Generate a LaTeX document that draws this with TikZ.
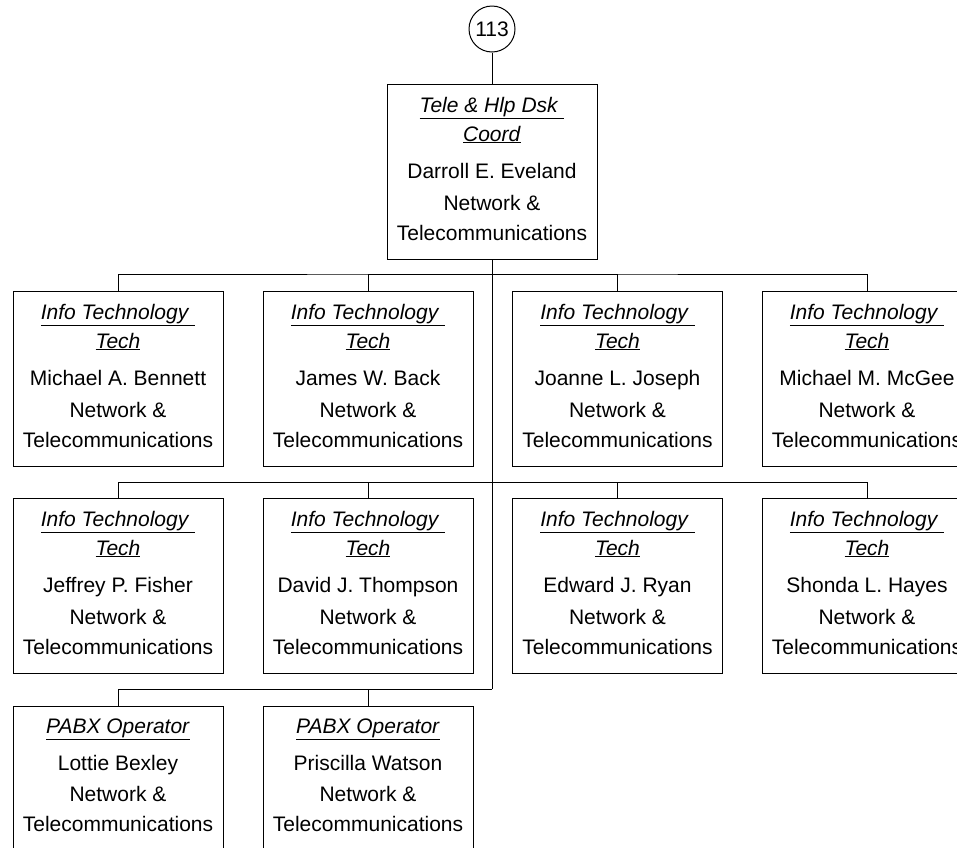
\documentclass[tikz,border=0pt]{standalone}
\usepackage{fontspec}
\setmainfont{Liberation Sans}
\tikzset{
  orgbox/.style={draw, line width=1pt, minimum width=210pt, minimum height=175pt, inner sep=0pt, anchor=north},
  txt/.style={anchor=base, inner sep=0pt},
  conn/.style={line width=1pt},
}
\newcommand\ttl[1]{\underline{\textit{#1}}}
% name, x, ytop, title1, title2, person
\newcommand\twobox[6]{%
  \node[orgbox] (#1) at (#2,#3) {};
  \node[txt] (#1-t1) at (#2,#3+28) {\ttl{#4}};
  \node[txt] (#1-t2) at (#2,#3+57) {\ttl{#5}};
  \node[txt] (#1-n) at (#2,#3+94) {#6};
  \node[txt] (#1-d1) at (#2,#3+126) {Network \&};
  \node[txt] (#1-d2) at (#2,#3+156) {Telecommunications};
}
\newcommand\onebox[5]{%
  \node[orgbox] (#1) at (#2,#3) {};
  \node[txt] (#1-t1) at (#2,#3+27) {\ttl{#4}};
  \node[txt] (#1-n) at (#2,#3+64) {#5};
  \node[txt] (#1-d1) at (#2,#3+95) {Network \&};
  \node[txt] (#1-d2) at (#2,#3+125) {Telecommunications};
}
\begin{document}
\begin{tikzpicture}[x=1pt, y=-1pt, font=\fontsize{21}{25}\selectfont]
\clip (0,0) rectangle (957,847);
\node[draw, circle, line width=1pt, minimum size=46pt, inner sep=0pt] (c113) at (492,29) {113};
\twobox{top}{492}{84}{Tele \& Hlp Dsk }{Coord}{Darroll E. Eveland}
\twobox{a1}{118}{291}{Info Technology }{Tech}{Michael A. Bennett}
\twobox{a2}{368}{291}{Info Technology }{Tech}{James W. Back}
\twobox{a3}{617.5}{291}{Info Technology }{Tech}{Joanne L. Joseph}
\twobox{a4}{867}{291}{Info Technology }{Tech}{Michael M. McGee}
\twobox{b1}{118}{498}{Info Technology }{Tech}{Jeffrey P. Fisher}
\twobox{b2}{368}{498}{Info Technology }{Tech}{David J. Thompson}
\twobox{b3}{617.5}{498}{Info Technology }{Tech}{Edward J. Ryan}
\twobox{b4}{867}{498}{Info Technology }{Tech}{Shonda L. Hayes}
\onebox{c1}{118}{706}{PABX Operator}{Lottie Bexley}
\onebox{c2}{368}{706}{PABX Operator}{Priscilla Watson}
\coordinate (busA) at (492,274);
\coordinate (busB) at (492,482);
\coordinate (busC) at (492,689);
\draw[conn] (c113) -- (top.north);
\draw[conn] (top.south) -- (busC);
\draw[conn] (a1.north) |- (busA) -| (a4.north);
\draw[conn] (busA) -| (a2.north);
\draw[conn] (busA) -| (a3.north);
\draw[conn] (b1.north) |- (busB) -| (b4.north);
\draw[conn] (busB) -| (b2.north);
\draw[conn] (busB) -| (b3.north);
\draw[conn] (c1.north) |- (busC);
\draw[conn] (busC) -| (c2.north);
\end{tikzpicture}
\end{document}
